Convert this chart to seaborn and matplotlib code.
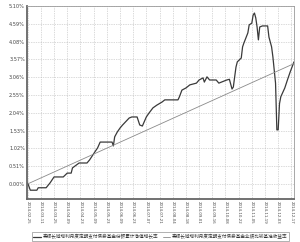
import matplotlib
matplotlib.use("Agg")
import matplotlib.pyplot as plt
import seaborn as sns
import pandas as pd

# trading-day index and cumulative growth (%) of the fund
fund_idx = [0, 2, 7, 8, 14, 17, 20, 27, 30, 33, 34, 39, 45, 47, 51, 53, 55, 64, 65, 66, 68, 70, 72, 77,
            79, 83, 85, 87, 90, 92, 95, 98, 102, 104, 114, 115, 117, 120, 123, 128, 130, 133, 134, 136,
            138, 143, 145, 151, 153, 155, 156, 157, 158, 159, 162, 163, 164, 167, 168, 170, 171, 172,
            173, 174, 175, 176, 178, 182, 183, 185, 186, 188, 189, 190, 191, 192, 195, 197, 199, 202]
fund_val = [0.03, -0.18, -0.18, -0.11, -0.11, 0.03, 0.20, 0.20, 0.31, 0.31, 0.46, 0.60, 0.60, 0.69, 0.92,
            1.03, 1.20, 1.20, 1.09, 1.35, 1.49, 1.60, 1.69, 1.89, 1.92, 1.92, 1.69, 1.66, 1.92, 2.03,
            2.18, 2.26, 2.35, 2.41, 2.41, 2.49, 2.69, 2.75, 2.84, 2.89, 2.98, 3.04, 2.92, 3.07, 2.98,
            2.98, 2.89, 2.98, 3.00, 2.72, 2.78, 3.07, 3.35, 3.50, 3.61, 3.93, 4.04, 4.33, 4.56, 4.61,
            4.84, 4.90, 4.76, 4.50, 4.13, 4.50, 4.53, 4.53, 4.21, 3.93, 3.64, 2.89, 1.55, 1.55, 2.30,
            2.50, 2.75, 2.98, 3.20, 3.50]

# benchmark (straight line) endpoints
bench_idx = [0, 202]
bench_val = [0.00, 3.45]

tick_pos = list(range(0, 201, 10))
tick_labels = ["2014-02-25", "2014-03-11", "2014-03-25", "2014-04-09", "2014-04-23", "2014-05-09",
               "2014-05-23", "2014-06-09", "2014-06-23", "2014-07-07", "2014-07-21", "2014-08-04",
               "2014-08-18", "2014-09-01", "2014-09-16", "2014-10-08", "2014-10-22", "2014-11-05",
               "2014-11-19", "2014-12-03", "2014-12-17"]
y_ticks = [0.00, 0.51, 1.02, 1.53, 2.04, 2.55, 3.06, 3.57, 4.08, 4.59, 5.10]

fund_name = "泰顺长城增利月度定期支付债券基金份额累计净值增长率"
bench_name = "泰顺长城增利月度定期支付债券基金业绩比较基准收益率"

sns.set_theme(style="white")
plt.rcParams['font.family'] = ['Noto Sans CJK SC', 'DejaVu Sans']

fig = plt.figure(figsize=(3.0, 2.42), dpi=100)
ax = fig.add_axes([0.09, 0.178, 0.89, 0.797])

df_f = pd.DataFrame({"x": fund_idx, "y": fund_val})
df_b = pd.DataFrame({"x": bench_idx, "y": bench_val})
sns.lineplot(data=df_f, x="x", y="y", ax=ax, color="#3a3a3a", linewidth=0.9, label=fund_name, legend=False)
sns.lineplot(data=df_b, x="x", y="y", ax=ax, color="#8a8a8a", linewidth=0.6, label=bench_name, legend=False)

ax.set_xlim(-0.5, 202)
ax.set_ylim(-0.43, 5.10)
ax.set_xticks(tick_pos)
ax.set_xticklabels(tick_labels, rotation=-90, fontsize=2.8, color="#444444", family="DejaVu Sans")
ax.set_yticks(y_ticks)
ax.set_yticklabels([f"{v:.2f}%" for v in y_ticks], fontsize=3.6, color="#444444", family="DejaVu Sans")
ax.set_xlabel("")
ax.set_ylabel("")
ax.tick_params(axis="both", length=0, pad=1.5)
ax.grid(True, color="#b5b5b5", linestyle=(0, (1, 1.5)), linewidth=0.5)

for s in ["left", "bottom"]:
    ax.spines[s].set_color("#666666")
    ax.spines[s].set_linewidth(1.3)
for s in ["top", "right"]:
    ax.spines[s].set_color("#9a9a9a")
    ax.spines[s].set_linewidth(0.6)

handles, labels = ax.get_legend_handles_labels()
leg = fig.legend(handles, labels, loc="lower center", bbox_to_anchor=(0.535, 0.004), ncol=2, fontsize=3.3,
                 frameon=True, fancybox=False, edgecolor="#777777", handlelength=1.6,
                 columnspacing=1.0, handletextpad=0.4, borderpad=0.4, borderaxespad=0)
leg.get_frame().set_linewidth(0.5)
for t in leg.get_texts():
    t.set_color("#333333")

fig.savefig("out.png", dpi=100)
